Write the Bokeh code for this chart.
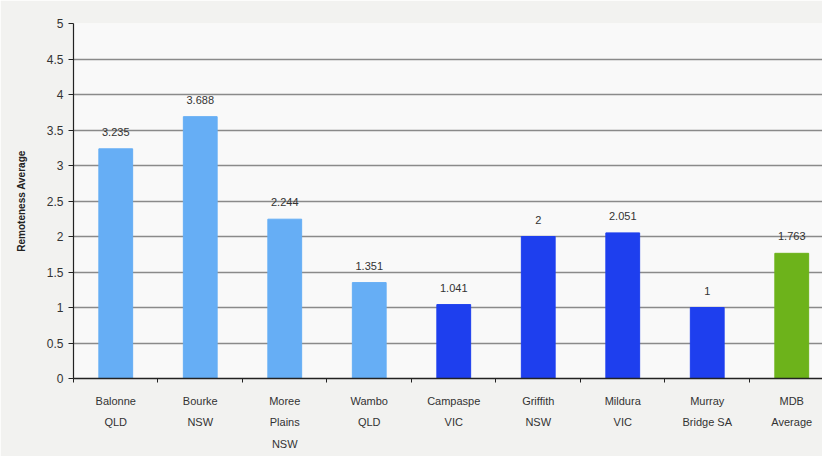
from bokeh.plotting import figure
from bokeh.models import ColumnDataSource, Range1d, FixedTicker, LabelSet
from bokeh.core.properties import value
from bokeh.embed import file_html
from bokeh.resources import INLINE

categories = ["Balonne\nQLD", "Bourke\nNSW", "Moree\nPlains\nNSW", "Wambo\nQLD",
              "Campaspe\nVIC", "Griffith\nNSW", "Mildura\nVIC", "Murray\nBridge SA", "MDB\nAverage"]
values = [3.235, 3.688, 2.244, 1.351, 1.041, 2.0, 2.051, 1.0, 1.763]
value_labels = ["3.235", "3.688", "2.244", "1.351", "1.041", "2", "2.051", "1", "1.763"]
bar_colors = ["#66AEF5", "#66AEF5", "#66AEF5", "#66AEF5",
              "#1E3FEE", "#1E3FEE", "#1E3FEE", "#1E3FEE", "#6DB31B"]
y_ticks = [0, 0.5, 1, 1.5, 2, 2.5, 3, 3.5, 4, 4.5, 5]
y_tick_labels = ["0", "0.5", "1", "1.5", "2", "2.5", "3", "3.5", "4", "4.5", "5"]

xs = list(range(len(categories)))
src = ColumnDataSource(dict(x=xs, top=values, color=bar_colors, lab=value_labels))

p = figure(width=822, height=456, output_backend="svg", toolbar_location=None,
           x_range=Range1d(-0.5, 8.364), y_range=Range1d(0, 5),
           min_border_left=73, min_border_right=0, min_border_top=23, min_border_bottom=78)
p.border_fill_color = "#f2f2f0"
p.background_fill_color = "#f9f9f9"
p.outline_line_color = None

p.vbar(x="x", top="top", width=0.40, color="color", source=src)

labels = LabelSet(x="x", y="top", text="lab", source=src, text_align="center",
                  text_baseline="bottom", y_offset=13, text_font=value("Liberation Sans"),
                  text_font_size=value("11px"), text_color=value("#333333"))
p.add_layout(labels)

# x axis
p.xaxis.ticker = FixedTicker(ticks=xs, minor_ticks=[i - 0.5 for i in range(len(categories) + 1)])
p.xaxis.major_label_overrides = {i: c for i, c in enumerate(categories)}
p.xaxis.major_tick_out = 0
p.xaxis.major_tick_in = 0
p.xaxis.minor_tick_out = 4
p.xaxis.minor_tick_in = 0
p.xaxis.minor_tick_line_color = "#222222"
p.xaxis.axis_line_color = "#222222"
p.xaxis.axis_line_width = 1.5
p.xaxis.major_label_text_font = "Liberation Sans"
p.xaxis.major_label_text_font_size = "11px"
p.xaxis.major_label_text_color = "#333333"
p.xaxis.major_label_text_line_height = 1.8
p.xaxis.major_label_standoff = 12

# y axis
p.yaxis.ticker = FixedTicker(ticks=y_ticks)
p.yaxis.major_label_overrides = {t: l for t, l in zip(y_ticks, y_tick_labels)}
p.yaxis.major_tick_out = 5
p.yaxis.major_tick_in = 0
p.yaxis.minor_tick_out = 0
p.yaxis.major_tick_line_color = "#222222"
p.yaxis.axis_line_color = "#222222"
p.yaxis.axis_line_width = 1.2
p.yaxis.major_label_text_font = "Liberation Sans"
p.yaxis.major_label_text_font_size = "12px"
p.yaxis.major_label_text_color = "#333333"
p.yaxis.major_label_standoff = 5
p.yaxis.axis_label = "Remoteness Average"
p.yaxis.axis_label_text_font = "Liberation Sans"
p.yaxis.axis_label_text_font_size = "10px"
p.yaxis.axis_label_text_font_style = "bold"
p.yaxis.axis_label_text_color = "#222222"
p.yaxis.axis_label_standoff = 17

p.xgrid.grid_line_color = None
p.ygrid.ticker = FixedTicker(ticks=y_ticks)
p.ygrid.grid_line_color = "#8a8a8a"
p.ygrid.grid_line_width = 1.5

open("out.html", "w").write(file_html(p, INLINE))
